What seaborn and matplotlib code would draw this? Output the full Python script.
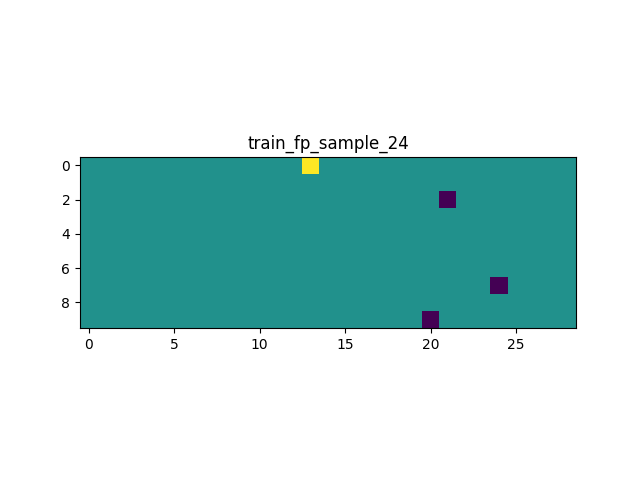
import numpy as np
import matplotlib
matplotlib.use("Agg")
import matplotlib.pyplot as plt
import seaborn as sns

n_rows = 10
n_cols = 29
pos_cells = [(0, 13)]
neg_cells = [(2, 21), (7, 24), (9, 20)]
title = "train_fp_sample_24"
xtick_vals = [0, 5, 10, 15, 20, 25]
ytick_vals = [0, 2, 4, 6, 8]

data = np.zeros((n_rows, n_cols))
for r, c in pos_cells:
    data[r, c] = 1
for r, c in neg_cells:
    data[r, c] = -1

fig, ax = plt.subplots(figsize=(6.4, 4.8), dpi=100)
sns.heatmap(data, ax=ax, cmap="viridis", vmin=-1, vmax=1, cbar=False,
            xticklabels=False, yticklabels=False)
ax.set_aspect("equal")
ax.set_xlim(-0.5 + 0.5 - 0.5 + 0.5 - 0.5, n_cols + 0.0 + 0.0)
ax.set_xlim(-0.5, n_cols)
ax.set_ylim(n_rows, 0)
ax.set_xticks([v + 0.5 for v in xtick_vals])
ax.set_xticklabels([str(v) for v in xtick_vals], rotation=0)
ax.set_yticks([v + 0.5 for v in ytick_vals])
ax.set_yticklabels([str(v) for v in ytick_vals], rotation=0)
ax.set_xlim(0, n_cols)
for s in ax.spines.values():
    s.set_visible(True)
    s.set_color("black")
    s.set_linewidth(0.8)
ax.tick_params(length=3.5, width=0.8, labelsize=10)
ax.set_title(title, fontsize=12)
fig.savefig("out.png", dpi=100)
